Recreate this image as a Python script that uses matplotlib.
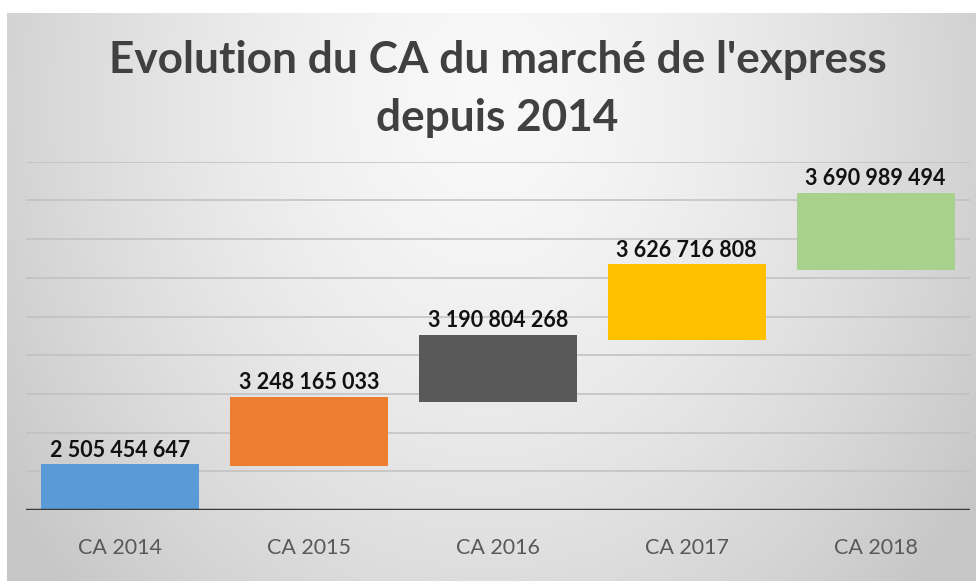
import numpy as np
import matplotlib
matplotlib.use("Agg")
import matplotlib.pyplot as plt

# ---- data ----
categories = ["CA 2014", "CA 2015", "CA 2016", "CA 2017", "CA 2018"]
ca_values = [2505454647, 3248165033, 3190804268, 3626716808, 3690989494]
# floating bar extents (in gridline units)
bar_bottom = [0.00, 1.14, 2.78, 4.39, 6.20]
bar_top = [1.18, 2.93, 4.52, 6.35, 8.20]
bar_colors = ["#5B9BD5", "#ED7D31", "#595959", "#FFC000", "#A9D18E"]
title_lines = ["Evolution du CA du marché de l'express", "depuis 2014"]

W, H = 976, 581
fig = plt.figure(figsize=(W / 100, H / 100), dpi=100)
fig.patch.set_facecolor("white")

FONT = "Lato"

# background gradient panel
bg = fig.add_axes([7 / W, 0, 1 - 7 / W, 1 - 13 / H])
bg.set_axis_off()
yy, xx = np.mgrid[0:H - 13, 0:W - 7]
d = np.sqrt(((xx - 480) / 510.0) ** 2 + ((yy - 90) / 620.0) ** 2)
val = np.clip(0.975 - 0.16 * d ** 1.5, 0.78, 1.0)
img = np.dstack([val, val, val])
bg.imshow(img, aspect="auto", interpolation="bilinear")
bg.set_zorder(0)

# main axes
x0, x1 = 26, 970
y_axis, y_top = 510, 161.7
ax = fig.add_axes([x0 / W, (H - y_axis) / H, (x1 - x0) / W, (y_axis - y_top) / H])
ax.set_zorder(1)
ax.patch.set_alpha(0)
ax.set_xlim(-0.5, 4.5)
ax.set_ylim(0, 9)
for s in ax.spines.values():
    s.set_visible(False)
ax.set_yticks([])
for g in range(1, 10):
    ax.axhline(g, color="#c0c0c0", lw=1.1, zorder=1)
ax.axhline(0, color="#3a3a3a", lw=2.5, zorder=3)

xs = np.arange(len(categories))
heights = [t - b for t, b in zip(bar_top, bar_bottom)]
ax.bar(xs, heights, bottom=bar_bottom, width=0.836, color=bar_colors, zorder=2)

for x, top, v in zip(xs, bar_top, ca_values):
    label = f"{v:,}".replace(",", " ")
    ax.annotate(label, (x, top), xytext=(0, 5.5), textcoords="offset points",
                ha="center", va="baseline", fontsize=15.5, fontweight="bold",
                fontfamily=FONT, color="#111111")

ax.set_xticks(xs)
ax.set_xticklabels(categories, fontsize=15.5, fontfamily=FONT, color="#595959")
ax.tick_params(axis="x", length=0, pad=20)

fig.text(497.5 / W, 1 - 72.5 / H, title_lines[0], ha="center", va="baseline",
         fontsize=31.8, fontweight="bold", fontfamily=FONT, color="#404040")
fig.text(497.5 / W, 1 - 131 / H, title_lines[1], ha="center", va="baseline",
         fontsize=31.8, fontweight="bold", fontfamily=FONT, color="#404040")

fig.savefig("out.png", dpi=100)
